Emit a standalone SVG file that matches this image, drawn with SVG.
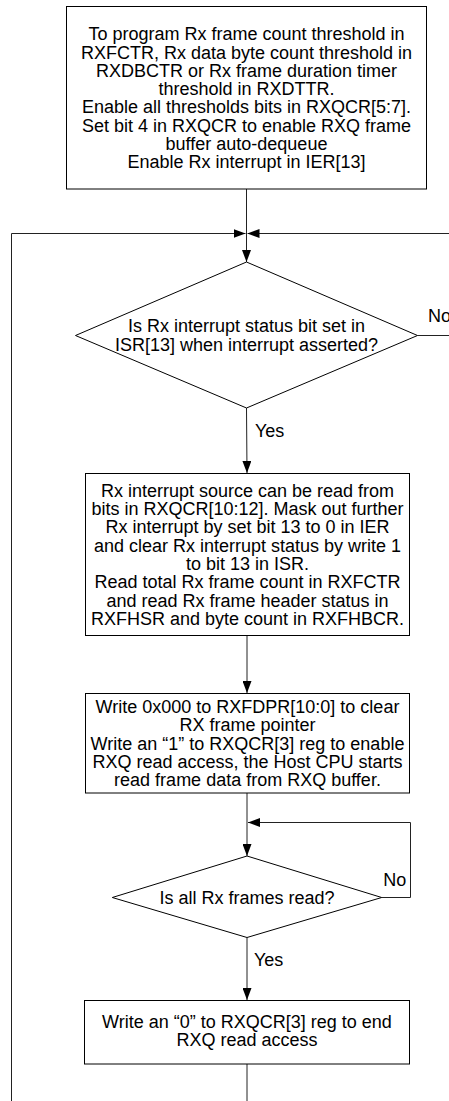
<svg xmlns="http://www.w3.org/2000/svg" width="449" height="1101" viewBox="0 0 449 1101">
<style>
.box{fill:#fff;stroke:#000;stroke-width:1}
.con{fill:none;stroke:#222;stroke-width:1}
text{font-family:"Liberation Sans",Arial,sans-serif;font-size:18px;fill:#000}
.c{text-anchor:middle}
</style>
<defs>
<marker id="ah" markerUnits="userSpaceOnUse" markerWidth="12" markerHeight="9" refX="12" refY="4.5" orient="auto">
<path d="M0,0 L12,4.5 L0,9 z" fill="#000"/>
</marker>
</defs>
<rect width="449" height="1101" fill="#fff"/>
<g id="connectors">
<path class="con" d="M246.5,189 V262" marker-end="url(#ah)"/>
<path class="con" d="M11.5,1101 V233.5 H245.5" marker-end="url(#ah)"/>
<path class="con" d="M449,233.5 H247.5" marker-end="url(#ah)"/>
<path class="con" d="M417.5,335.5 H449"/>
<path class="con" d="M246.5,408 L247,473" marker-end="url(#ah)"/>
<path class="con" d="M247,636 V693" marker-end="url(#ah)"/>
<path class="con" d="M247,793 V856" marker-end="url(#ah)"/>
<path class="con" d="M381.7,897.5 H410.5 V822.5 H248" marker-end="url(#ah)"/>
<path class="con" d="M247,937.5 V1000" marker-end="url(#ah)"/>
<path class="con" d="M247,1064 V1101"/>
</g>
<g id="n1">
<rect class="box" x="66.5" y="6.5" width="360" height="182.5"/>
<text class="c" x="246.5" y="40.2">To program Rx frame count threshold in</text>
<text class="c" x="246.5" y="58.5">RXFCTR, Rx data byte count threshold in</text>
<text class="c" x="246.5" y="76.8">RXDBCTR or Rx frame duration timer</text>
<text class="c" x="246.5" y="95.1">threshold in RXDTTR.</text>
<text class="c" x="246.5" y="113.4">Enable all thresholds bits in RXQCR[5:7].</text>
<text class="c" x="246.5" y="131.7">Set bit 4 in RXQCR to enable RXQ frame</text>
<text class="c" x="246.5" y="150">buffer auto-dequeue</text>
<text class="c" x="246.5" y="168.3">Enable Rx interrupt in IER[13]</text>
</g>
<g id="d1">
<polygon class="box" points="246.5,262 417.5,335.5 246.5,408 75.5,335.5"/>
<text class="c" x="246.5" y="332.3">Is Rx interrupt status bit set in</text>
<text class="c" x="246.5" y="350.6">ISR[13] when interrupt asserted?</text>
</g>
<text id="l_no1" x="428" y="321.7">No</text>
<text id="l_yes1" x="255" y="436.5">Yes</text>
<g id="n2">
<rect class="box" x="85.5" y="473.5" width="324" height="162"/>
<text class="c" x="247.5" y="496.8">Rx interrupt source can be read from</text>
<text class="c" x="247.5" y="515.1">bits in RXQCR[10:12]. Mask out further</text>
<text class="c" x="247.5" y="533.4">Rx interrupt by set bit 13 to 0 in IER</text>
<text class="c" x="247.5" y="551.7">and clear Rx interrupt status by write 1</text>
<text class="c" x="247.5" y="570">to bit 13 in ISR.</text>
<text class="c" x="247.5" y="588.3">Read total Rx frame count in RXFCTR</text>
<text class="c" x="247.5" y="606.6">and read Rx frame header status in</text>
<text class="c" x="247.5" y="624.9">RXFHSR and byte count in RXFHBCR.</text>
</g>
<g id="n3">
<rect class="box" x="85.5" y="693.5" width="324" height="99.5"/>
<text class="c" x="247.5" y="712.9">Write 0x000 to RXFDPR[10:0] to clear</text>
<text class="c" x="247.5" y="731.2">RX frame pointer</text>
<text class="c" x="247.5" y="749.5">Write an “1” to RXQCR[3] reg to enable</text>
<text class="c" x="247.5" y="767.8">RXQ read access, the Host CPU starts</text>
<text class="c" x="247.5" y="786.1">read frame data from RXQ buffer.</text>
</g>
<g id="d2">
<polygon class="box" points="247,856 381.7,897.5 247,937.5 112.3,897.5"/>
<text class="c" x="247" y="903.5">Is all Rx frames read?</text>
</g>
<text id="l_no2" x="383.3" y="885.7">No</text>
<text id="l_yes2" x="254" y="965.8">Yes</text>
<g id="n4">
<rect class="box" x="84.5" y="1000.5" width="325" height="63.5"/>
<text class="c" x="247" y="1027.8">Write an “0” to RXQCR[3] reg to end</text>
<text class="c" x="247" y="1046.1">RXQ read access</text>
</g>
</svg>
